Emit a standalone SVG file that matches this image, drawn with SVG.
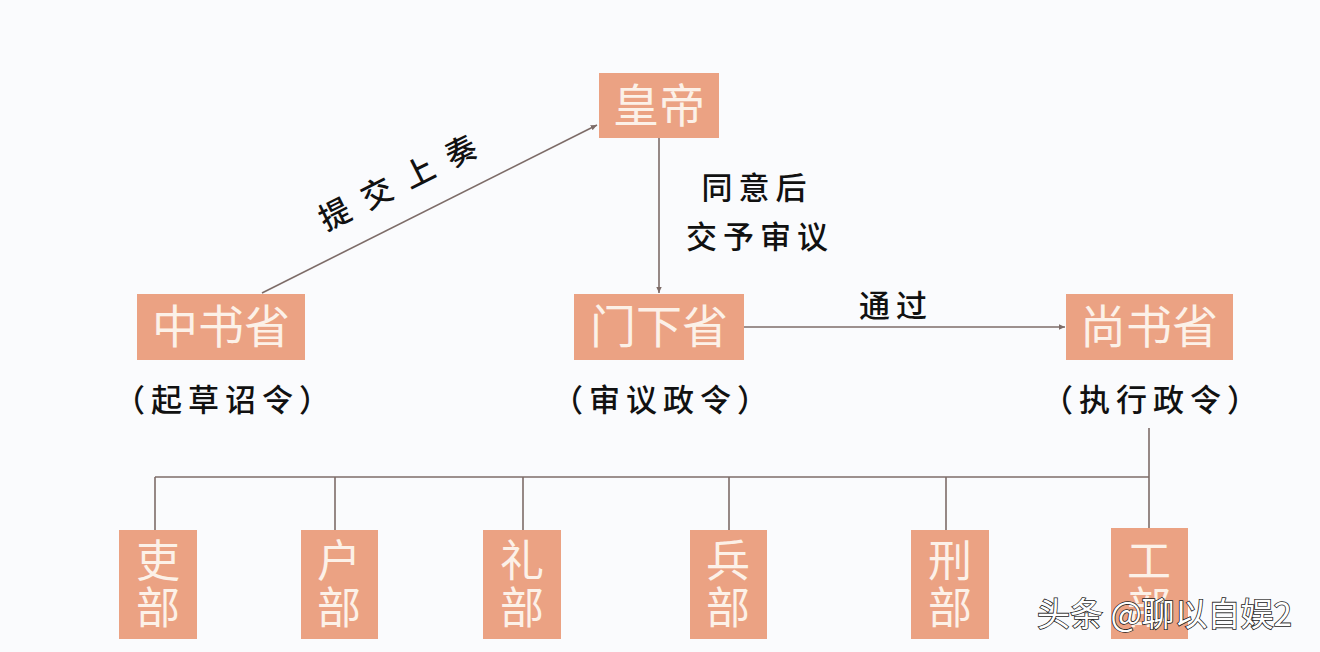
<svg xmlns="http://www.w3.org/2000/svg" width="1320" height="652" viewBox="0 0 1320 652">
<style>
.box{fill:#EBA283;}
.nt{font-family:"Noto Sans CJK SC","Noto Sans",sans-serif;fill:#FCF1E8;text-anchor:middle;font-size:46px;}
.bt{font-family:"Noto Sans CJK SC","Noto Sans",sans-serif;fill:#FCF1E8;font-size:44px;writing-mode:vertical-rl;letter-spacing:3px;}
.lb{font-family:"Noto Sans CJK SC","Noto Serif",serif;fill:#111;text-anchor:middle;font-size:31px;font-weight:500;letter-spacing:6px;}
.ln{stroke:#7d6c68;stroke-width:1.6;fill:none;}
.wm{font-family:"Noto Sans CJK SC","Noto Sans",sans-serif;font-size:33px;fill:#ffffff;stroke:#222;stroke-width:1.6;paint-order:stroke;}
</style>
<defs>
<marker id="ar" viewBox="0 0 10 10" refX="9" refY="5" markerWidth="7" markerHeight="7" orient="auto" markerUnits="userSpaceOnUse">
<path d="M0,1 L9,5 L0,9 Z" fill="#7d6c68"/>
</marker>
</defs>
<rect width="1320" height="652" fill="#FAFBFD"/>
<g id="connectors">
<line class="ln" x1="262" y1="293" x2="597" y2="125" marker-end="url(#ar)"/>
<line class="ln" x1="659" y1="138" x2="659" y2="293" marker-end="url(#ar)"/>
<line class="ln" x1="744" y1="327" x2="1065" y2="327" marker-end="url(#ar)"/>
<line class="ln" x1="1149" y1="428" x2="1149" y2="528"/>
<line class="ln" x1="155" y1="477" x2="1149" y2="477"/>
<line class="ln" x1="155" y1="477" x2="155" y2="530"/>
<line class="ln" x1="335" y1="477" x2="335" y2="530"/>
<line class="ln" x1="523" y1="477" x2="523" y2="530"/>
<line class="ln" x1="729" y1="477" x2="729" y2="530"/>
<line class="ln" x1="946" y1="477" x2="946" y2="530"/>
<text class="lb" x="406" y="194" transform="rotate(-26.6 398 183)" font-size="32" style="letter-spacing:16px">提交上奏</text>
<text class="lb" x="757" y="199">同意后</text>
<text class="lb" x="760" y="248" font-size="32">交予审议</text>
<text class="lb" x="896" y="317">通过</text>
</g>
<g id="huangdi">
<rect class="box" x="599" y="73" width="120" height="65"/>
<text class="nt" x="659" y="122">皇帝</text>
</g>
<g id="zhongshu">
<rect class="box" x="137" y="294" width="168" height="66"/>
<text class="nt" x="221" y="343">中书省</text>
<text class="lb" x="225" y="411">（起草诏令）</text>
</g>
<g id="menxia">
<rect class="box" x="574" y="294" width="170" height="66"/>
<text class="nt" x="659" y="343">门下省</text>
<text class="lb" x="663" y="411">（审议政令）</text>
</g>
<g id="shangshu">
<rect class="box" x="1066" y="294" width="167" height="66"/>
<text class="nt" x="1149" y="343">尚书省</text>
<text class="lb" x="1153" y="411">（执行政令）</text>
</g>
<g id="libu">
<rect class="box" x="119" y="530" width="78" height="109"/>
<text class="bt" x="158" y="538">吏部</text>
</g>
<g id="hubu">
<rect class="box" x="301" y="530" width="77" height="109"/>
<text class="bt" x="339" y="538">户部</text>
</g>
<g id="libu2">
<rect class="box" x="483" y="530" width="78" height="109"/>
<text class="bt" x="522" y="538">礼部</text>
</g>
<g id="bingbu">
<rect class="box" x="690" y="530" width="77" height="109"/>
<text class="bt" x="728" y="538">兵部</text>
</g>
<g id="xingbu">
<rect class="box" x="911" y="530" width="78" height="109"/>
<text class="bt" x="950" y="538">刑部</text>
</g>
<g id="gongbu">
<rect class="box" x="1111" y="528" width="77" height="111"/>
<text class="bt" x="1149" y="538">工部</text>
</g>
<text class="wm" x="1037" y="626">头条 @聊以自娱2</text>
</svg>
